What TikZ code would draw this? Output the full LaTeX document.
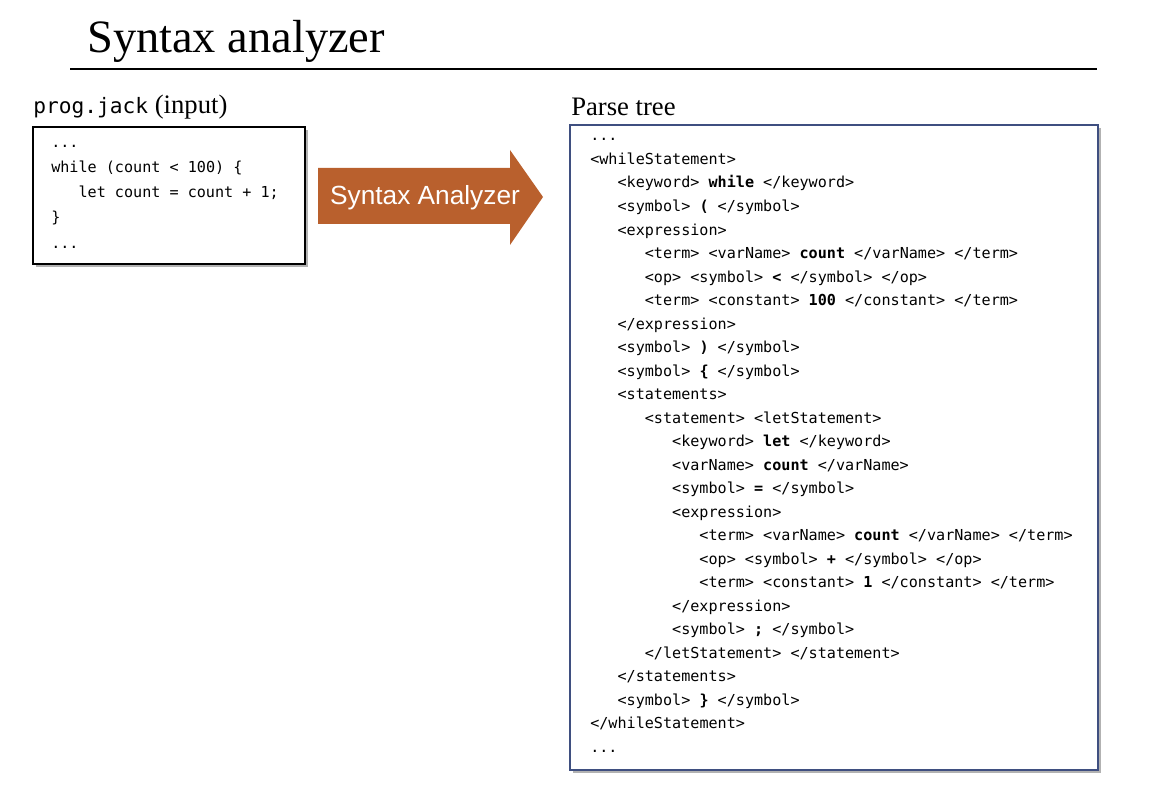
\documentclass[tikz,border=0pt]{standalone}
\usepackage{fontspec}
\setmainfont{Liberation Serif}
\setsansfont{Liberation Sans}
\setmonofont{DejaVu Sans Mono}
\usetikzlibrary{shadows}
\definecolor{arrowbrown}{RGB}{185,96,45}
\definecolor{treeborder}{RGB}{63,79,128}
\tikzset{
  codetext/.style={inner sep=0pt, anchor=base west, font=\fontsize{11.34pt}{13pt}\ttfamily},
  boxshadow/.style={drop shadow={shadow xshift=2.2pt, shadow yshift=-2.2pt, opacity=0.3, fill=black}},
  inbox/.style={draw=black, line width=0.9pt, fill=white, boxshadow, minimum width=204pt, minimum height=102.75pt, inner sep=0pt},
  treebox/.style={draw=treeborder, line width=0.9pt, fill=white, boxshadow, minimum width=396pt, minimum height=483.75pt, inner sep=0pt},
  heading/.style={inner sep=0pt, anchor=base west, font=\fontsize{20pt}{24pt}\selectfont},
}
\newcommand\ptline[4]{\node[codetext] (#1) at ({590+27.3*#2}, {141+23.5*#3}) {#4};}
\newcommand\inline[4]{\node[codetext] (#1) at ({51+27.3*#2}, {148+25*#3}) {#4};}
\begin{document}
\begin{tikzpicture}[x=0.75pt, y=-0.75pt]
\useasboundingbox (0,0) rectangle (1166,802);
% title
\node[inner sep=0pt, anchor=base west, font=\fontsize{34.8pt}{40pt}\selectfont] (title) at (87,53) {Syntax analyzer};
\coordinate (ruleL) at (70,69);
\coordinate (ruleR) at (1097,69);
\draw[line width=1.5pt] (ruleL) -- (ruleR);
% labels
\node[heading] (inlabel) at (33,114) {{\fontsize{15.9pt}{20pt}\ttfamily prog.jack} (input)};
\node[heading] (treelabel) at (571,116) {Parse tree};
% boxes
\node[inbox] (input) at (169,195.5) {};
\node[treebox] (tree) at (834,447.5) {};
% input code
\inline{i0}{0}{0}{...}
\inline{i1}{0}{1}{while (count < 100) \{}
\inline{i2}{1}{2}{let count = count + 1;}
\inline{i3}{0}{3}{\}}
\inline{i4}{0}{4}{...}
% arrow
\fill[arrowbrown] (318,168) -- (510,168) -- (510,150) -- (543,197) -- (510,245) -- (510,224) -- (318,224) -- cycle;
\node[inner sep=0pt, text=white, font=\sffamily\fontsize{19.7pt}{23pt}\selectfont] (analyzer) at (425,198) {Syntax Analyzer};
% parse tree
\ptline{t0}{0}{0}{...}
\ptline{t1}{0}{1}{<whileStatement>}
\ptline{t2}{1}{2}{<keyword> \textbf{while} </keyword>}
\ptline{t3}{1}{3}{<symbol> \textbf{(} </symbol>}
\ptline{t4}{1}{4}{<expression>}
\ptline{t5}{2}{5}{<term> <varName> \textbf{count} </varName> </term>}
\ptline{t6}{2}{6}{<op> <symbol> \textbf{<} </symbol> </op>}
\ptline{t7}{2}{7}{<term> <constant> \textbf{100} </constant> </term>}
\ptline{t8}{1}{8}{</expression>}
\ptline{t9}{1}{9}{<symbol> \textbf{)} </symbol>}
\ptline{t10}{1}{10}{<symbol> \textbf{\{} </symbol>}
\ptline{t11}{1}{11}{<statements>}
\ptline{t12}{2}{12}{<statement> <letStatement>}
\ptline{t13}{3}{13}{<keyword> \textbf{let} </keyword>}
\ptline{t14}{3}{14}{<varName> \textbf{count} </varName>}
\ptline{t15}{3}{15}{<symbol> \textbf{=} </symbol>}
\ptline{t16}{3}{16}{<expression>}
\ptline{t17}{4}{17}{<term> <varName> \textbf{count} </varName> </term>}
\ptline{t18}{4}{18}{<op> <symbol> \textbf{+} </symbol> </op>}
\ptline{t19}{4}{19}{<term> <constant> \textbf{1} </constant> </term>}
\ptline{t20}{3}{20}{</expression>}
\ptline{t21}{3}{21}{<symbol> \textbf{;} </symbol>}
\ptline{t22}{2}{22}{</letStatement> </statement>}
\ptline{t23}{1}{23}{</statements>}
\ptline{t24}{1}{24}{<symbol> \textbf{\}} </symbol>}
\ptline{t25}{0}{25}{</whileStatement>}
\ptline{t26}{0}{26}{...}
\end{tikzpicture}
\end{document}
